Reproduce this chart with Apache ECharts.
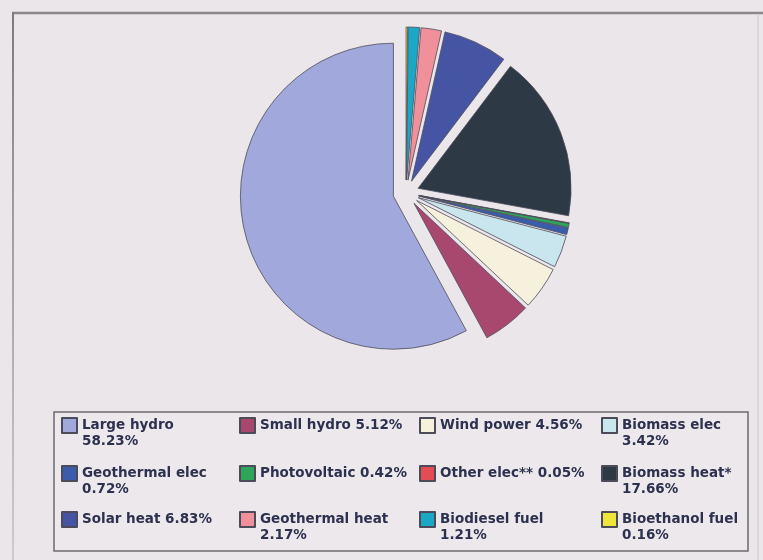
<!DOCTYPE html>
<html>
<head>
<meta charset="utf-8">
<script src="https://cdn.jsdelivr.net/npm/echarts@6/dist/echarts.min.js"></script>
<style>
  html, body { margin: 0; padding: 0; background: #ebe6e9; }
  #chart { width: 763px; height: 560px; }
</style>
</head>
<body>
<div id="chart"></div>
<script>
// Share of renewable energy by source (%)
const categories = [
  'Large hydro', 'Small hydro', 'Wind power', 'Biomass elec',
  'Geothermal elec', 'Photovoltaic', 'Other elec**', 'Biomass heat*',
  'Solar heat', 'Geothermal heat', 'Biodiesel fuel', 'Bioethanol fuel'
];
const values = [58.23, 5.12, 4.56, 3.42, 0.72, 0.42, 0.05, 17.66, 6.83, 2.17, 1.21, 0.16];
const colors = [
  '#a1a8db', '#a9486f', '#f5f1dd', '#c9e5ee',
  '#3b5bab', '#2ea55a', '#e24c52', '#2e3946',
  '#4655a3', '#f0909a', '#1ba8c6', '#efe63c'
];
// legend entries whose value goes on a second line
const wrapped = [true, false, false, true, true, false, false, true, false, true, true, true];

const legendCols = [61, 239, 419, 601];
const legendRows = [418, 466, 512];

const chart = echarts.init(document.getElementById('chart'), null, { renderer: 'canvas' });

const legendText = {};
categories.forEach((c, i) => {
  const v = values[i].toFixed(2) + '%';
  const body = wrapped[i] ? c + '\n' + v : c + ' ' + v;
  // blank first line keeps the icon level with the name line
  legendText[c] = wrapped[i] ? '\n' + body : '\n' + body + '\n';
});

const legends = categories.map((c, i) => ({
  data: [c],
  orient: 'vertical',
  left: legendCols[i % 4],
  top: legendRows[Math.floor(i / 4)] - 16.5,
  padding: 0,
  icon: 'rect',
  itemWidth: 15,
  itemHeight: 15,
  itemGap: 0,
  selectedMode: false,
  formatter: name => legendText[name],
  textStyle: {
    fontFamily: 'DejaVu Sans',
    fontWeight: 'bold',
    fontSize: 13.5,
    lineHeight: 16,
    color: '#2c3150'
  }
}));

const option = {
  backgroundColor: '#ebe6e9',
  animation: false,
  legend: legends,
  graphic: [
    { type: 'line', shape: { x1: 12, y1: 13, x2: 763, y2: 13 },
      style: { stroke: '#8a878a', lineWidth: 2.5 } },
    { type: 'line', shape: { x1: 13, y1: 12, x2: 13, y2: 560 },
      style: { stroke: new echarts.graphic.LinearGradient(0, 0, 0, 1, [
        { offset: 0, color: '#7d7a7d' }, { offset: 0.3, color: '#9a979a' },
        { offset: 1, color: '#cfcacd' }]), lineWidth: 2 } },
    { type: 'line', shape: { x1: 758, y1: 14, x2: 758, y2: 560 },
      style: { stroke: '#d6d1d4', lineWidth: 1.5 } },
    { type: 'rect', shape: { x: 54, y: 412, width: 694, height: 139 },
      style: { fill: '#ede8eb', stroke: '#6c6a70', lineWidth: 1.5 }, z: -1 }
  ],
  series: [{
    type: 'pie',
    center: [406, 193],
    radius: 153,
    startAngle: 90,
    clockwise: false,
    minAngle: 0,
    avoidLabelOverlap: false,
    selectedMode: 'multiple',
    selectedOffset: 13,
    label: { show: false },
    labelLine: { show: false },
    emphasis: { scale: false, disabled: true },
    itemStyle: { borderColor: '#4b4b5a', borderWidth: 0.8 },
    data: categories.map((c, i) => ({
      name: c,
      value: values[i],
      selected: true,
      itemStyle: { color: colors[i] }
    }))
  }]
};

chart.setOption(option);
</script>
</body>
</html>
